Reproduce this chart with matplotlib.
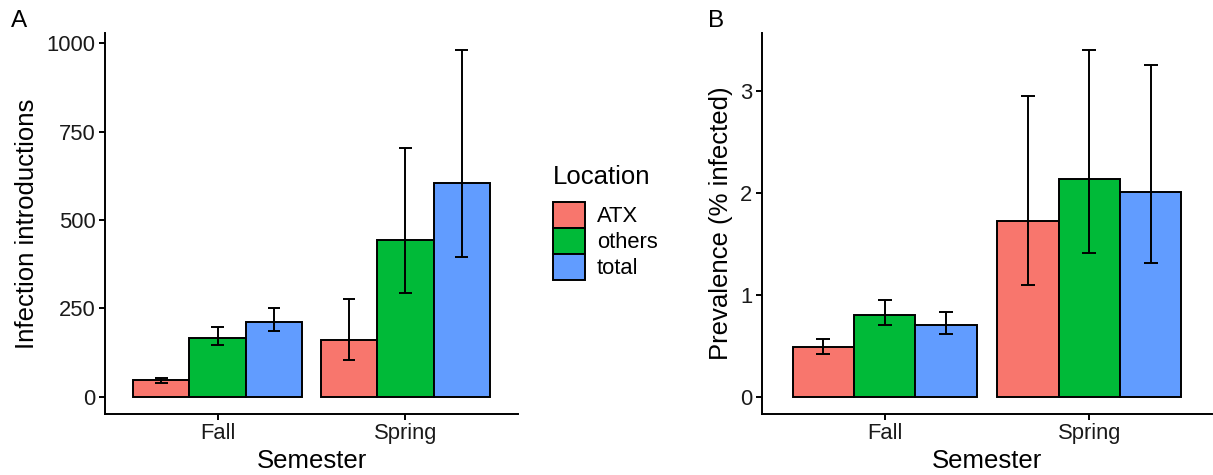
import matplotlib
matplotlib.use("Agg")
import matplotlib.pyplot as plt
import numpy as np
from matplotlib.patches import Patch

plt.rcParams['font.family'] = ['Liberation Sans', 'DejaVu Sans']

semesters = ["Fall", "Spring"]
locations = ["ATX", "others", "total"]
colors = ["#F8766D", "#00BA38", "#619CFF"]

# Panel A: infection introductions
intro_mean = {"ATX": [47, 161], "others": [165, 444], "total": [212, 605]}
intro_low = {"ATX": [40, 103], "others": [146, 293], "total": [185, 396]}
intro_high = {"ATX": [54, 277], "others": [197, 703], "total": [251, 980]}

# Panel B: prevalence (% infected)
prev_mean = {"ATX": [0.488, 1.724], "others": [0.80, 2.136], "total": [0.704, 2.006]}
prev_low = {"ATX": [0.422, 1.093], "others": [0.707, 1.413], "total": [0.618, 1.312]}
prev_high = {"ATX": [0.569, 2.95], "others": [0.952, 3.395], "total": [0.831, 3.255]}

W, H = 1213, 475
fig = plt.figure(figsize=(W / 100, H / 100), dpi=100)

axA = fig.add_axes([105 / W, 1 - 414 / H, (518 - 105) / W, (414 - 33) / H])
axB = fig.add_axes([762 / W, 1 - 414 / H, (1212 - 762) / W, (414 - 33) / H])

bar_w = 0.3
cap_half = 0.034
lw = 1.4
tick_fs = 15.8
title_fs = 18.5


def draw(ax, mean, low, high, yticks, ylabel):
    x = np.arange(1, len(semesters) + 1)
    for i, loc in enumerate(locations):
        xs = x + (i - 1) * bar_w
        ax.bar(xs, mean[loc], width=bar_w, color=colors[i], edgecolor="black",
               linewidth=lw, zorder=2)
        ax.vlines(xs, low[loc], high[loc], color="black", linewidth=lw, zorder=3)
        ax.hlines(low[loc], xs - cap_half, xs + cap_half, color="black", linewidth=lw, zorder=3)
        ax.hlines(high[loc], xs - cap_half, xs + cap_half, color="black", linewidth=lw, zorder=3)
    allv = [v for loc in locations for v in high[loc]] + [0]
    top = max(allv)
    pad = 0.05 * top
    ax.set_ylim(-pad, top + pad)
    ax.set_xlim(0.4, 2.6)
    ax.set_xticks(x)
    ax.set_xticklabels(semesters)
    ax.set_yticks(yticks)
    ax.set_yticklabels([str(t) for t in yticks])
    for s in ["top", "right"]:
        ax.spines[s].set_visible(False)
    for s in ["left", "bottom"]:
        ax.spines[s].set_linewidth(lw)
    ax.tick_params(axis="both", length=4.3, width=lw, labelsize=tick_fs, colors="black",
                   labelcolor="#1a1a1a", pad=2.5)
    ax.set_xlabel("Semester", fontsize=title_fs, labelpad=3)
    ax.set_ylabel(ylabel, fontsize=title_fs, labelpad=5.5)


draw(axA, intro_mean, intro_low, intro_high, [0, 250, 500, 750, 1000], "Infection introductions")
draw(axB, prev_mean, prev_low, prev_high, [0, 1, 2, 3], "Prevalence (% infected)")

fig.text(11 / W, 1 - 21 / H, "A", fontsize=17.5, va="center", ha="left")
fig.text(708 / W, 1 - 21 / H, "B", fontsize=17.5, va="center", ha="left")

handles = [Patch(facecolor=c, edgecolor="black", linewidth=lw) for c in colors]
leg = fig.legend(handles, locations, title="Location", loc="upper left",
                 bbox_to_anchor=(553 / W, 1 - 165 / H), frameon=False,
                 fontsize=tick_fs, title_fontsize=title_fs, handlelength=1.45, handleheight=1.45,
                 handletextpad=0.55, labelspacing=0.0, borderaxespad=0, borderpad=0)
leg._legend_box.align = "left"
leg._legend_box.sep = 9

fig.savefig("out.png", dpi=100)
